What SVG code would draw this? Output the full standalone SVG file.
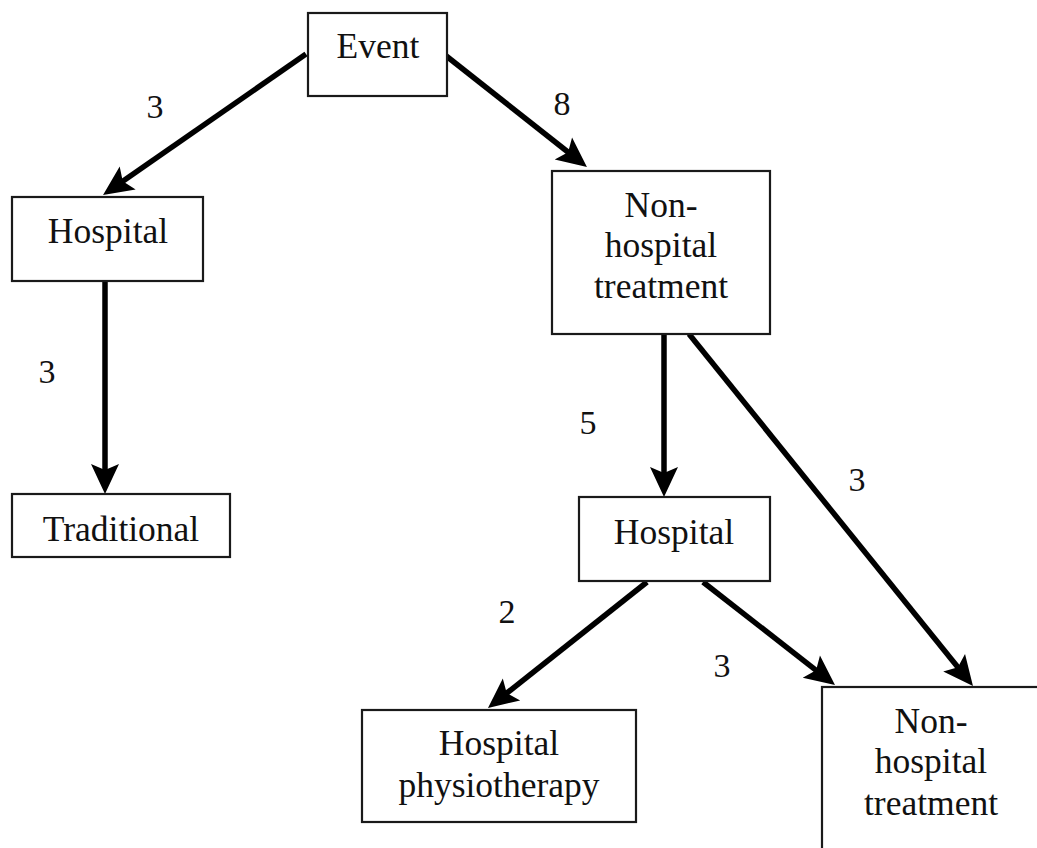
<svg xmlns="http://www.w3.org/2000/svg" width="1037" height="848" viewBox="0 0 1037 848">
<defs>
<style>
.box{fill:#fff;stroke:#1a1a1a;stroke-width:2.2}
.t{font-family:"Liberation Serif","Times New Roman",serif;font-size:35.5px;fill:#111;text-anchor:middle}
.lbl{font-family:"Liberation Serif","Times New Roman",serif;font-size:34px;fill:#111;text-anchor:middle}
.edge{stroke:#000;stroke-width:5.5;fill:none;marker-end:url(#ah)}
</style>
<marker id="ah" markerUnits="userSpaceOnUse" viewBox="0 0 30 30" markerWidth="30" markerHeight="30" refX="13" refY="15" orient="auto" overflow="visible">
<path d="M30,15 L0,1 L6,15 L0,29 Z" fill="#000"/>
</marker>
</defs>
<rect width="1037" height="848" fill="#fff"/>
<g id="connectors">
<line class="edge" x1="306" y1="54" x2="117" y2="185.3"/>
<line class="edge" x1="445" y1="55" x2="573.6" y2="156.5"/>
<line class="edge" x1="105" y1="281" x2="105" y2="477"/>
<line class="edge" x1="664" y1="334" x2="664" y2="480"/>
<line class="edge" x1="689" y1="334" x2="962.3" y2="672.8"/>
<line class="edge" x1="647" y1="582" x2="501.3" y2="697.5"/>
<line class="edge" x1="703" y1="582" x2="821.6" y2="674.6"/>
</g>
<g id="labels">
<text class="lbl" x="155" y="118">3</text>
<text class="lbl" x="562" y="115">8</text>
<text class="lbl" x="47" y="383">3</text>
<text class="lbl" x="588" y="434">5</text>
<text class="lbl" x="857" y="491">3</text>
<text class="lbl" x="507" y="623">2</text>
<text class="lbl" x="722" y="677">3</text>
</g>
<g id="event">
<rect class="box" x="308" y="13" width="139" height="83"/>
<text class="t" x="378" y="58">Event</text>
</g>
<g id="hospital1">
<rect class="box" x="12" y="197" width="191" height="84"/>
<text class="t" x="108" y="243">Hospital</text>
</g>
<g id="nonhospital1">
<rect class="box" x="552" y="171" width="218" height="163"/>
<text class="t" x="661" y="217">Non-</text>
<text class="t" x="661" y="257">hospital</text>
<text class="t" x="661" y="298">treatment</text>
</g>
<g id="traditional">
<rect class="box" x="12" y="494" width="218" height="63"/>
<text class="t" x="121" y="541">Traditional</text>
</g>
<g id="hospital2">
<rect class="box" x="579" y="497" width="191" height="84"/>
<text class="t" x="674" y="544">Hospital</text>
</g>
<g id="physio">
<rect class="box" x="362" y="710" width="274" height="112"/>
<text class="t" x="499" y="755">Hospital</text>
<text class="t" x="499" y="797">physiotherapy</text>
</g>
<g id="nonhospital2">
<rect class="box" x="822" y="687" width="218" height="170"/>
<text class="t" x="931" y="733">Non-</text>
<text class="t" x="931" y="773">hospital</text>
<text class="t" x="931" y="815">treatment</text>
</g>
</svg>
